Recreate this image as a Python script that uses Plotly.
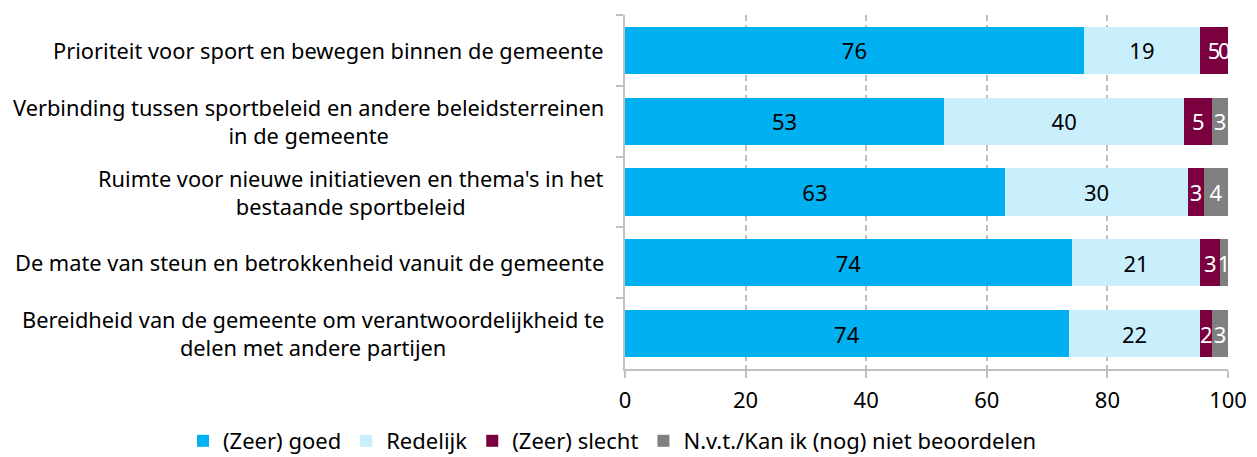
import plotly.graph_objects as go

categories = [
    "Prioriteit voor sport en bewegen binnen de gemeente",
    "Verbinding tussen sportbeleid en andere beleidsterreinen<br>in de gemeente",
    "Ruimte voor nieuwe initiatieven en thema's in het<br>bestaande sportbeleid",
    "De mate van steun en betrokkenheid vanuit de gemeente",
    "Bereidheid van de gemeente om verantwoordelijkheid te<br>delen met andere partijen",
]
cat_keys = ["c1", "c2", "c3", "c4", "c5"]

series_names = ["(Zeer) goed", "Redelijk", "(Zeer) slecht", "N.v.t./Kan ik (nog) niet beoordelen"]
zeer_goed = [76.1, 52.9, 63.0, 74.1, 73.6]
redelijk = [19.25, 39.85, 30.4, 21.3, 21.8]
zeer_slecht = [4.65, 4.65, 2.6, 3.3, 2.0]
nvt = [0.0, 2.6, 4.0, 1.3, 2.6]

colors = ["#00B0F0", "#C9EEFC", "#7A0040", "#808080"]
text_colors = ["#000000", "#000000", "#FFFFFF", "#FFFFFF"]
x_ticks = [0, 20, 40, 60, 80, 100]

FONT = "Noto Sans"
AX = "#C0C0C0"

# The page body has an 8px default margin; size the figure to fill the rest.
fig = go.Figure()
for name, vals, col, tcol in zip(series_names, [zeer_goed, redelijk, zeer_slecht, nvt], colors, text_colors):
    fig.add_trace(go.Bar(
        y=cat_keys, x=vals, name=name, orientation="h",
        marker=dict(color=col, line=dict(width=0)),
        text=[f"{round(v):d}" for v in vals],
        textposition="inside", insidetextanchor="middle",
        textfont=dict(color=tcol, size=22, family=FONT),
        constraintext="none",
        width=0.665,
    ))

# zero-valued segment label
for k, v, base in zip(cat_keys, nvt, [a + b + c for a, b, c in zip(zeer_goed, redelijk, zeer_slecht)]):
    if round(v) == 0:
        fig.add_annotation(x=base, y=k, xref="x", yref="y", text="0", showarrow=False,
                           xanchor="right", xshift=5, font=dict(color="#FFFFFF", size=22, family=FONT))

for k, lab in zip(cat_keys, categories):
    fig.add_annotation(x=0, y=k, xref="paper", yref="y", text=lab, showarrow=False,
                       xanchor="right", xshift=-19, align="center",
                       font=dict(color="#000000", size=21.8, family=FONT))

fig.update_layout(
    barmode="stack",
    width=1249, height=449,
    margin=dict(l=617, r=29, t=7, b=88, autoexpand=False),
    paper_bgcolor="white", plot_bgcolor="white",
    font=dict(family=FONT, size=22, color="#000000"),
    legend=dict(orientation="h", xref="paper", yref="paper", x=-0.733, xanchor="left",
                y=-0.2034, yanchor="middle", font=dict(size=22, family=FONT), traceorder="normal"),
    xaxis=dict(range=[0, 100], tickvals=x_ticks, showgrid=True, gridcolor=AX, griddash="6px,4px",
               gridwidth=2, showline=True, linecolor=AX, linewidth=2, ticks="outside",
               ticklen=7, tickcolor=AX, tickwidth=2, zeroline=False, ticklabelstandoff=4,
               tickfont=dict(size=22, family=FONT)),
    yaxis=dict(autorange="reversed", showticklabels=False, showline=True, linecolor=AX,
               linewidth=2, ticks="outside", tickson="boundaries", ticklen=7, tickcolor=AX,
               tickwidth=2, showgrid=False),
)

fig.write_html("out.html")
